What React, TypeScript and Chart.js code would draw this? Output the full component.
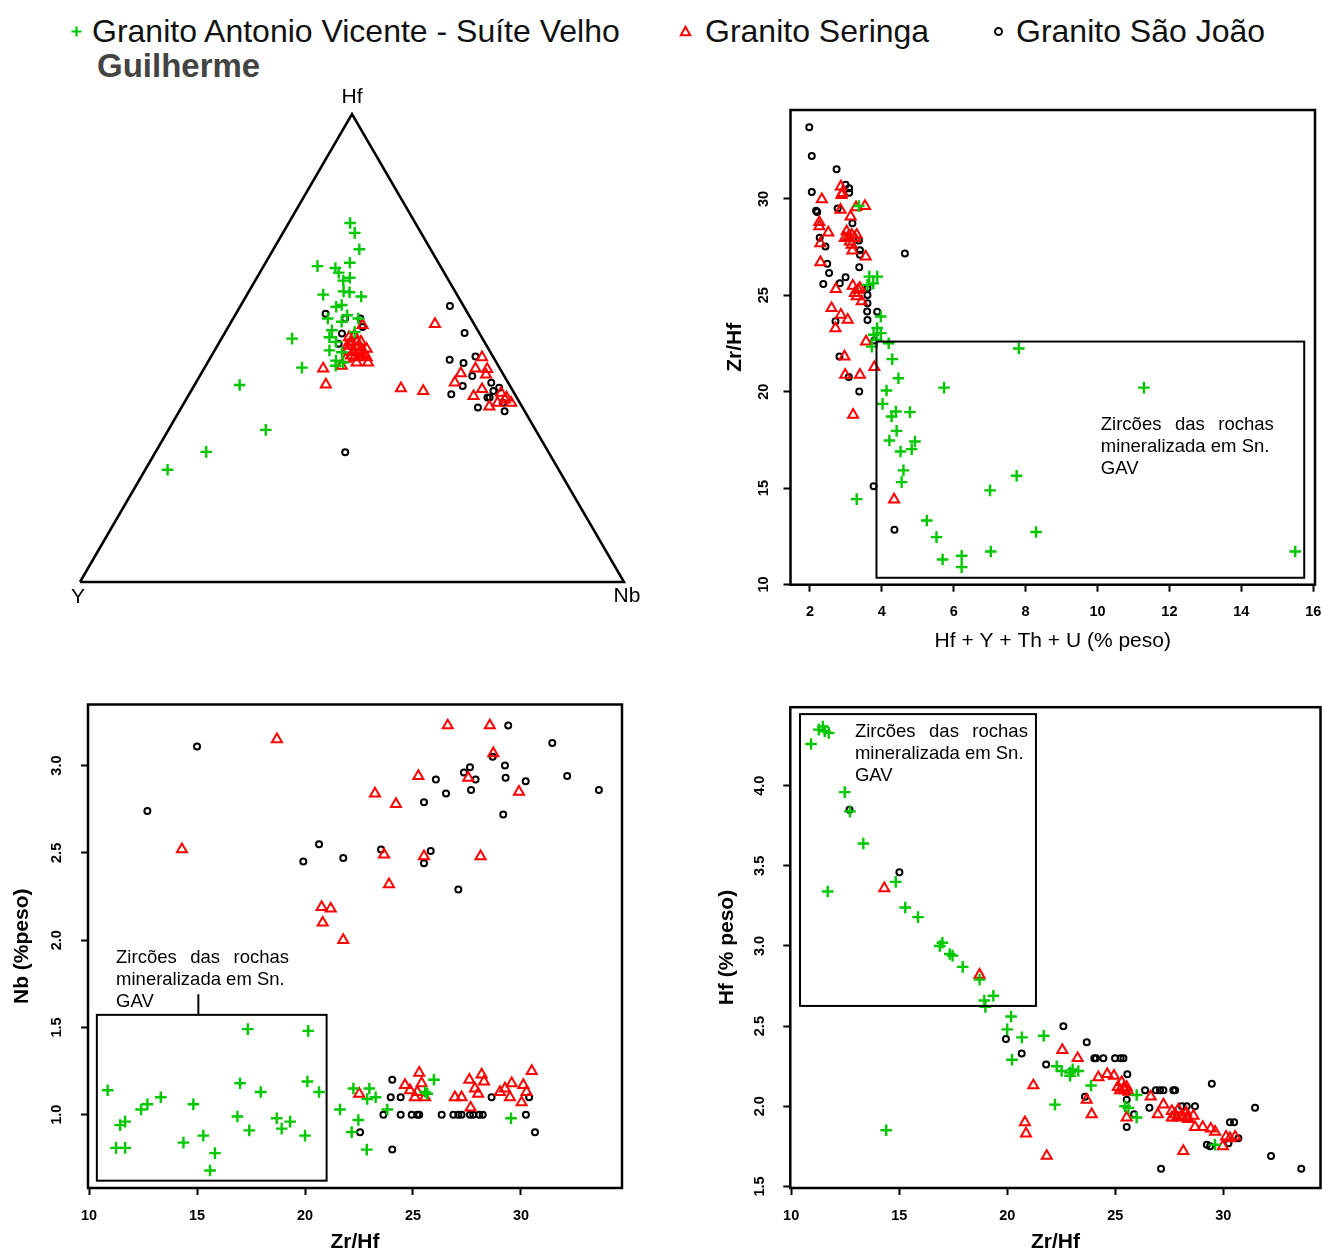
import { useEffect, useRef } from "react";
import { Chart, registerables } from "chart.js";

Chart.register(...registerables);

const FONT = "'Liberation Sans', Arial, Helvetica, sans-serif";
Chart.defaults.font.family = FONT;
Chart.defaults.color = "#000";

type Pt = [number, number];
type Tri = [number, number, number]; // [Hf, Y, Nb] in %

const GREEN = "#00c800";
const RED = "#ff0000";
const BLACK = "#000000";

// Series names
const NAME_GAV = "Granito Antonio Vicente - Suíte Velho";
const NAME_GAV_2 = "Guilherme";
const NAME_SER = "Granito Seringa";
const NAME_SJ = "Granito São João";

// Ternary vertex labels and the note printed inside the highlighted regions
const VERTEX_LABELS = ["Hf", "Y", "Nb"];
const NOTE_LINES = ["Zircões das rochas", "mineralizada em Sn.", "GAV"];

// ---------- Ternary Hf - Y - Nb (%): [Hf, Y, Nb] ----------
const TERN_GAV: Tri[] = [
  [76.7, 12.0, 11.3], [74.6, 12.2, 13.2], [71.1, 13.1, 15.8], [67.5, 22.6, 9.9], [67.1, 19.5, 13.4],
  [68.2, 16.3, 15.5], [66.1, 19.4, 14.5], [65.0, 17.9, 17.1], [64.4, 19.4, 16.2], [61.4, 24.6, 14.0],
  [62.1, 20.5, 17.4], [61.9, 19.5, 18.6], [61.0, 17.8, 21.2], [58.8, 23.5, 17.7], [59.2, 22.3, 18.5],
  [56.3, 26.3, 17.4], [55.6, 24.1, 20.3], [53.8, 26.8, 19.4], [52.3, 28.0, 19.7], [53.4, 22.8, 23.8],
  [52.0, 35.0, 13.0], [51.3, 27.3, 21.4], [49.5, 29.4, 21.1], [49.1, 27.3, 23.6], [47.3, 29.3, 23.4],
  [46.9, 28.2, 24.9], [46.2, 29.9, 23.9], [45.8, 36.3, 17.9], [42.1, 49.6, 8.3], [32.5, 49.6, 17.9],
  [27.8, 62.9, 9.3], [24.0, 71.9, 4.1], [57.0, 22.4, 20.6], [56.3, 20.7, 23.0],
];
const TERN_SER: Tri[] = [
  [54.9, 20.6, 24.5], [52.7, 23.2, 24.1], [51.3, 24.5, 24.2], [51.3, 22.7, 26.0], [49.8, 22.4, 27.8],
  [49.1, 25.2, 25.7], [48.4, 23.9, 27.7], [47.7, 27.3, 25.0], [46.9, 23.6, 29.5], [46.9, 25.7, 27.4],
  [50.5, 25.0, 24.5], [50.2, 23.7, 26.1], [48.7, 23.4, 27.9], [49.5, 26.1, 24.4], [48.0, 25.5, 26.5],
  [46.2, 28.8, 25.0], [52.3, 24.4, 23.3], [51.3, 23.4, 25.3], [49.5, 23.3, 27.2], [48.4, 26.0, 25.6],
  [49.1, 24.2, 26.7], [48.0, 23.3, 28.7], [50.5, 25.6, 23.9],
  [45.6, 32.5, 21.9], [42.2, 33.7, 24.1], [55.1, 7.2, 37.7], [41.4, 20.3, 38.3], [40.8, 16.5, 42.7],
  [48.0, 2.1, 49.9], [45.6, 4.5, 49.9], [45.5, 2.4, 52.1], [44.6, 7.7, 47.7], [44.3, 3.2, 52.5],
  [42.6, 9.8, 47.6], [41.2, 5.5, 53.3], [39.7, 7.8, 52.5], [40.4, 2.4, 57.2], [39.4, 1.9, 58.7],
  [38.3, 1.6, 60.1], [37.5, 6.0, 56.5], [38.3, 4.1, 57.6], [39.0, 2.4, 58.6],
];
const TERN_SJ: Tri[] = [
  [57.3, 26.2, 16.5], [56.3, 23.1, 20.6], [56.3, 20.3, 23.4], [53.1, 25.3, 21.6], [50.9, 27.0, 22.1],
  [54.5, 20.8, 24.7], [27.7, 37.4, 34.9], [59.0, 2.5, 38.5], [53.2, 2.7, 44.1], [47.5, 8.3, 44.2],
  [46.8, 6.1, 47.1], [48.2, 3.2, 48.6], [44.0, 5.9, 50.1], [41.9, 8.7, 49.4], [40.1, 11.7, 48.2],
  [42.6, 3.1, 54.3], [41.5, 2.2, 56.3], [40.8, 3.6, 55.6], [39.4, 5.4, 55.2], [37.3, 8.2, 54.5],
  [36.5, 3.7, 59.8], [38.3, 3.1, 58.6], [39.4, 5.0, 55.6],
];

// ---------- Zr/Hf vs Hf + Y + Th + U (% peso): [sum, Zr/Hf] ----------
const SUM_GAV: Pt[] = [
  [3.36, 29.63], [3.65, 25.97], [3.87, 25.97], [3.76, 25.62], [3.6, 25.54], [3.97, 23.9], [3.87, 23.3],
  [3.97, 23.04], [3.77, 22.95], [3.86, 22.69], [3.72, 22.34], [4.19, 22.51], [4.29, 21.69], [4.46, 20.7],
  [4.13, 20.06], [4.02, 19.37], [4.39, 18.97], [4.27, 18.71], [4.78, 18.94], [4.41, 17.97], [4.21, 17.47],
  [4.52, 16.9], [4.92, 17.42], [4.83, 17.02], [4.6, 15.92], [4.55, 15.31], [3.3, 14.43], [7.75, 15.64],
  [7.01, 14.88], [5.25, 13.32], [5.52, 12.46], [8.29, 12.72], [5.69, 11.3], [6.22, 11.49], [6.22, 10.9],
  [7.03, 11.71], [7.81, 22.24], [5.73, 20.21], [11.29, 20.21], [15.5, 11.71],
];
const SUM_SER: Pt[] = [
  [2.86, 30.64], [2.9, 30.3], [2.88, 30.2], [2.33, 29.98], [2.85, 29.43], [3.53, 29.63], [3.28, 29.56],
  [3.13, 29.08], [2.26, 28.79], [2.26, 28.57], [2.51, 28.25], [3.02, 28.31], [3.07, 28.05], [3.16, 28.14],
  [2.97, 27.96], [3.11, 27.79], [3.25, 27.96], [3.16, 27.62], [3.3, 28.14], [3.18, 27.32], [2.29, 27.7],
  [3.55, 27.01], [2.29, 26.71], [2.72, 25.32], [3.19, 25.49], [3.25, 25.11], [3.34, 25.28], [3.3, 24.94],
  [3.44, 24.68], [3.39, 25.37], [2.6, 24.33], [2.86, 23.99], [3.05, 23.73], [2.71, 23.29], [3.56, 22.6],
  [2.96, 21.82], [2.98, 20.87], [3.39, 20.87], [3.79, 21.27], [3.2, 18.8], [4.34, 14.4],
];
const SUM_SJ: Pt[] = [
  [1.98, 33.72], [2.05, 32.23], [2.74, 31.54], [2.05, 30.36], [2.99, 30.73], [3.09, 30.55], [3.09, 30.32],
  [2.17, 29.39], [2.2, 29.32], [2.77, 29.5], [3.18, 28.74], [2.27, 27.98], [2.43, 27.53], [3.36, 27.84],
  [3.39, 27.33], [3.39, 27.1], [2.48, 26.63], [2.53, 26.15], [3.37, 26.46], [4.64, 27.17], [2.37, 25.59],
  [2.99, 25.93], [2.83, 25.62], [3.6, 25.37], [3.6, 25.02], [3.6, 24.59], [3.59, 24.16], [3.87, 24.14],
  [3.6, 23.72], [2.71, 23.65], [2.82, 21.82], [3.08, 20.76], [3.37, 20.01], [3.79, 22.65], [3.77, 15.09],
  [4.35, 12.84],
];

// ---------- Nb (%peso) vs Zr/Hf: [Zr/Hf, Nb] ----------
const NB_GAV: Pt[] = [
  [10.86, 1.14], [11.44, 0.94], [11.67, 0.96], [11.25, 0.81], [11.67, 0.81], [12.41, 1.03], [12.7, 1.06],
  [13.32, 1.1], [14.83, 1.06], [14.37, 0.84], [15.29, 0.88], [15.83, 0.78], [15.6, 0.68], [16.99, 1.18],
  [16.87, 0.99], [17.42, 0.91], [17.95, 1.13], [17.35, 1.49], [20.15, 1.48], [20.11, 1.19], [20.65, 1.13],
  [18.69, 0.98], [18.92, 0.92], [19.31, 0.96], [20.0, 0.88], [21.62, 1.03], [22.24, 1.15], [22.98, 1.15],
  [22.88, 1.09], [23.27, 1.1], [23.81, 1.03], [22.47, 0.97], [22.16, 0.9], [22.86, 0.8], [25.97, 1.2],
  [25.56, 1.13], [25.66, 1.12], [29.54, 0.98],
];
const NB_SER: Pt[] = [
  [26.61, 3.23], [28.56, 3.23], [18.7, 3.15], [28.72, 3.07], [25.25, 2.94], [27.56, 2.93], [23.24, 2.84],
  [24.21, 2.78], [29.91, 2.85], [23.66, 2.49], [25.51, 2.48], [28.13, 2.48], [23.89, 2.32], [20.77, 2.19],
  [21.19, 2.18], [20.82, 2.1], [21.77, 2.0], [14.3, 2.52], [22.51, 1.12], [24.63, 1.17], [24.86, 1.14],
  [25.29, 1.24], [25.4, 1.18], [25.09, 1.1], [25.56, 1.1], [25.2, 1.13], [26.94, 1.1], [27.25, 1.1],
  [27.67, 1.04], [27.61, 1.2], [28.18, 1.23], [28.29, 1.19], [27.87, 1.15], [28.02, 1.12], [29.03, 1.13],
  [29.57, 1.18], [29.49, 1.1], [30.11, 1.17], [30.26, 1.13], [30.03, 1.07], [30.5, 1.25], [29.26, 1.15],
];
const NB_SJ: Pt[] = [
  [29.41, 3.23], [31.45, 3.13], [28.69, 3.05], [27.64, 2.99], [27.36, 2.96], [29.26, 3.0], [26.06, 2.92],
  [27.9, 2.92], [29.29, 2.93], [30.22, 2.91], [32.14, 2.94], [33.61, 2.86], [26.53, 2.84], [27.69, 2.86],
  [25.51, 2.79], [29.18, 2.72], [20.65, 2.55], [19.92, 2.45], [21.77, 2.47], [23.52, 2.52], [25.82, 2.51],
  [25.51, 2.44], [27.1, 2.29], [15.0, 3.11], [12.7, 2.74], [24.04, 1.2], [23.97, 1.1], [24.43, 1.1],
  [23.63, 1.0], [24.43, 1.0], [24.94, 1.0], [25.29, 1.0], [25.2, 1.0], [26.33, 1.0], [26.87, 1.0],
  [27.1, 1.0], [27.25, 1.0], [27.64, 1.0], [27.79, 1.0], [28.07, 1.0], [28.23, 1.0], [28.64, 1.1],
  [30.23, 1.0], [30.38, 1.1], [30.65, 0.9], [22.55, 0.9], [24.04, 0.8],
];

// ---------- Hf (% peso) vs Zr/Hf: [Zr/Hf, Hf] ----------
const HF_GAV: Pt[] = [
  [10.92, 4.26], [11.28, 4.35], [11.56, 4.34], [11.74, 4.33], [11.47, 4.37], [12.48, 3.96], [12.72, 3.84],
  [13.34, 3.64], [11.69, 3.34], [14.84, 3.4], [15.28, 3.24], [15.87, 3.18], [16.88, 3.0], [17.0, 3.02],
  [17.34, 2.95], [17.47, 2.94], [17.94, 2.87], [18.72, 2.79], [18.94, 2.66], [18.99, 2.62], [19.36, 2.69],
  [20.18, 2.56], [20.0, 2.48], [20.68, 2.43], [21.69, 2.44], [20.22, 2.29], [14.4, 1.85], [22.29, 2.25],
  [22.52, 2.22], [22.91, 2.21], [23.03, 2.23], [23.29, 2.22], [22.91, 2.19], [22.21, 2.01], [23.88, 2.13],
  [25.99, 2.07], [25.45, 2.0], [25.61, 1.99], [25.99, 1.93], [29.62, 1.76],
];
const HF_SER: Pt[] = [
  [14.31, 3.36], [18.72, 2.82], [22.55, 2.35], [23.26, 2.3], [21.21, 2.13], [20.82, 1.9], [20.87, 1.83],
  [21.83, 1.69], [24.22, 2.18], [24.63, 2.2], [24.94, 2.19], [25.3, 2.15], [25.12, 2.12], [25.38, 2.11],
  [25.53, 2.12], [25.45, 2.1], [25.22, 2.1], [25.61, 2.09], [23.68, 2.04], [23.91, 1.95], [25.53, 1.93],
  [26.64, 2.06], [27.23, 2.01], [26.97, 1.95], [27.62, 1.97], [27.77, 1.95], [27.92, 1.98], [28.08, 1.94],
  [28.28, 1.96], [27.85, 1.93], [27.62, 1.93], [28.31, 1.93], [28.62, 1.94], [28.38, 1.92], [28.69, 1.87],
  [29.05, 1.87], [29.42, 1.86], [29.62, 1.84], [29.98, 1.75], [30.13, 1.81], [30.31, 1.8], [30.55, 1.81],
  [28.15, 1.72],
];
const HF_SJ: Pt[] = [
  [12.7, 3.85], [15.01, 3.46], [22.6, 2.5], [19.94, 2.42], [20.67, 2.33], [21.8, 2.26], [23.68, 2.4],
  [24.03, 2.3], [24.11, 2.3], [24.45, 2.3], [24.99, 2.3], [25.25, 2.3], [25.38, 2.3], [23.6, 2.06],
  [25.56, 2.2], [25.53, 2.04], [25.87, 1.95], [25.53, 1.87], [26.38, 2.1], [26.88, 2.1], [27.07, 2.1],
  [27.23, 2.1], [27.69, 2.1], [27.77, 2.1], [26.58, 1.99], [28.08, 2.0], [28.31, 2.0], [28.69, 2.0],
  [27.85, 1.93], [29.47, 2.14], [30.31, 1.9], [30.5, 1.9], [31.47, 1.99], [29.24, 1.76], [29.39, 1.75],
  [30.7, 1.8], [30.24, 1.77], [32.21, 1.69], [27.12, 1.61], [33.61, 1.61],
];

// ---------- Tick values ----------
const X_TICKS_SUM = [2, 4, 6, 8, 10, 12, 14, 16];
const Y_TICKS_ZRHF = [10, 15, 20, 25, 30];
const X_TICKS_ZRHF = [10, 15, 20, 25, 30];
const Y_TICKS_NB = [1.0, 1.5, 2.0, 2.5, 3.0];
const Y_TICKS_HF = [1.5, 2.0, 2.5, 3.0, 3.5, 4.0];

// ---------- marker styles ----------
type Kind = "gav" | "ser" | "sj";
const NONE = "rgba(0,0,0,0)";

function markers(label: string, pts: Pt[], kind: Kind) {
  const base = { label, data: pts.map(([x, y]) => ({ x, y })), showLine: false, clip: false as const };
  if (kind === "gav")
    return { ...base, pointStyle: "cross", pointRadius: 5.8, pointBorderWidth: 2.4, borderColor: GREEN, backgroundColor: GREEN, pointBorderColor: GREEN, pointBackgroundColor: GREEN };
  if (kind === "ser")
    return { ...base, pointStyle: "triangle", pointRadius: 5.8, pointBorderWidth: 2, borderColor: RED, backgroundColor: NONE, pointBorderColor: RED, pointBackgroundColor: NONE };
  return { ...base, pointStyle: "circle", pointRadius: 3, pointBorderWidth: 2, borderColor: BLACK, backgroundColor: NONE, pointBorderColor: BLACK, pointBackgroundColor: NONE };
}

// ---------- ternary ----------
const SQ3_2 = Math.sqrt(3) / 2;
function ternXY([hf, y, nb]: Tri) {
  const s = hf + y + nb;
  return { x: (nb + hf / 2) / s, y: (hf / s) * SQ3_2 };
}
const VERTICES: Tri[] = [[100, 0, 0], [0, 100, 0], [0, 0, 100]];

function ternaryConfig(): any {
  const outline = [VERTICES[1], VERTICES[2], VERTICES[0], VERTICES[1]].map(ternXY);
  const tern = (label: string, pts: Tri[], kind: Kind) => {
    const d = markers(label, [], kind);
    return { ...d, data: pts.map(ternXY) };
  };
  const labelPlugin = {
    id: "ternLabels",
    afterDraw(chart: any) {
      const { ctx, scales } = chart;
      const offsets: Pt[] = [[0, -17], [-2, 15], [3, 14]];
      ctx.save();
      ctx.fillStyle = "#000";
      ctx.font = `21px ${FONT}`;
      ctx.textAlign = "center";
      ctx.textBaseline = "middle";
      VERTICES.forEach((v, i) => {
        const p = ternXY(v);
        ctx.fillText(VERTEX_LABELS[i], scales.x.getPixelForValue(p.x) + offsets[i][0], scales.y.getPixelForValue(p.y) + offsets[i][1]);
      });
      ctx.restore();
    },
  };
  return {
    type: "scatter",
    data: {
      datasets: [
        tern(NAME_GAV + " " + NAME_GAV_2, TERN_GAV, "gav"),
        tern(NAME_SER, TERN_SER, "ser"),
        tern(NAME_SJ, TERN_SJ, "sj"),
        { label: "Hf-Y-Nb", data: outline, showLine: true, borderColor: BLACK, borderWidth: 2.5, pointRadius: 0, clip: false },
      ],
    },
    options: {
      animation: false,
      responsive: false,
      events: [],
      layout: { padding: { left: 40, right: 46, top: 34, bottom: 38 }, autoPadding: false },
      plugins: { legend: { display: false }, tooltip: { enabled: false } },
      scales: {
        x: { type: "linear", min: 0, max: 1, display: false },
        y: { type: "linear", min: 0, max: SQ3_2, display: false },
      },
    },
    plugins: [labelPlugin],
  };
}

// ---------- scatter panels ----------
interface PanelSpec {
  series: { label: string; pts: Pt[]; kind: Kind }[];
  x: { min: number; max: number; ticks: number[]; title: string; bold: boolean; titlePad: number; height: number; labelPad: number };
  y: { min: number; max: number; ticks: number[]; fmt: (v: number) => string; title: string; width: number; labelOffset: number };
  padding: { left: number; right: number; top: number; bottom: number };
  inset: { x0: number; x1: number; y0: number; y1: number };
  note: { x: number; y: number };
  connector?: { x: number; y0: number; y1: number };
}

const TICK_FONT = 14.5;
const NOTE_FONT = 18.5;
const NOTE_LINE_H = 22;
const NOTE_WIDTH = 173;

function decor(spec: PanelSpec) {
  return {
    id: "panelDecor",
    afterDraw(chart: any) {
      const { ctx, chartArea: a, scales } = chart;
      const X = (v: number) => scales.x.getPixelForValue(v);
      const Y = (v: number) => scales.y.getPixelForValue(v);
      ctx.save();
      // y tick labels, written parallel to the axis
      ctx.fillStyle = "#000";
      ctx.font = `bold ${TICK_FONT}px ${FONT}`;
      ctx.textAlign = "center";
      ctx.textBaseline = "middle";
      for (const v of spec.y.ticks) {
        ctx.save();
        ctx.translate(a.left - spec.y.labelOffset, Y(v));
        ctx.rotate(-Math.PI / 2);
        ctx.fillText(spec.y.fmt(v), 0, 0);
        ctx.restore();
      }
      // highlighted region of the mineralised granite
      ctx.strokeStyle = "#000";
      ctx.lineWidth = 2;
      const { x0, x1, y0, y1 } = spec.inset;
      ctx.strokeRect(X(x0), Y(y1), X(x1) - X(x0), Y(y0) - Y(y1));
      if (spec.connector) {
        ctx.beginPath();
        ctx.moveTo(X(spec.connector.x), Y(spec.connector.y0));
        ctx.lineTo(X(spec.connector.x), Y(spec.connector.y1));
        ctx.stroke();
      }
      // note, first line justified
      ctx.font = `${NOTE_FONT}px ${FONT}`;
      ctx.textAlign = "left";
      const nx = X(spec.note.x);
      const ny = Y(spec.note.y);
      NOTE_LINES.forEach((line, i) => {
        const ly = ny + i * NOTE_LINE_H;
        if (i === 0) {
          const words = line.split(" ");
          const total = words.reduce((s, w) => s + ctx.measureText(w).width, 0);
          const gap = (NOTE_WIDTH - total) / (words.length - 1);
          let cx = nx;
          for (const w of words) {
            ctx.fillText(w, cx, ly);
            cx += ctx.measureText(w).width + gap;
          }
        } else {
          ctx.fillText(line, nx, ly);
        }
      });
      // plot frame
      ctx.lineWidth = 2.5;
      ctx.strokeRect(a.left, a.top, a.right - a.left, a.bottom - a.top);
      ctx.restore();
    },
  };
}

function panelConfig(spec: PanelSpec): any {
  return {
    type: "scatter",
    data: { datasets: spec.series.map((s) => markers(s.label, s.pts, s.kind)) },
    options: {
      animation: false,
      responsive: false,
      events: [],
      layout: { padding: spec.padding, autoPadding: false },
      plugins: { legend: { display: false }, tooltip: { enabled: false } },
      scales: {
        x: {
          type: "linear",
          position: "bottom",
          min: spec.x.min,
          max: spec.x.max,
          afterBuildTicks: (s: any) => {
            s.ticks = spec.x.ticks.map((v) => ({ value: v }));
          },
          afterFit: (s: any) => {
            s.height = spec.x.height;
            s.paddingLeft = 0;
            s.paddingRight = 0;
            s.paddingTop = 0;
            s.paddingBottom = 0;
          },
          ticks: {
            autoSkip: false,
            maxRotation: 0,
            minRotation: 0,
            padding: spec.x.labelPad,
            color: "#000",
            font: { size: TICK_FONT, weight: "bold" },
            callback: (v: number) => String(v),
          },
          grid: { drawOnChartArea: false, drawTicks: true, tickLength: 7, tickWidth: 2, tickColor: "#000", color: "#000" },
          border: { display: false },
          title: {
            display: true,
            text: spec.x.title,
            color: "#000",
            font: { size: 21, weight: spec.x.bold ? "bold" : "normal" },
            padding: { top: 0, bottom: spec.x.titlePad },
          },
        },
        y: {
          type: "linear",
          position: "left",
          min: spec.y.min,
          max: spec.y.max,
          afterBuildTicks: (s: any) => {
            s.ticks = spec.y.ticks.map((v) => ({ value: v }));
          },
          afterFit: (s: any) => {
            s.width = spec.y.width;
            s.paddingLeft = 0;
            s.paddingRight = 0;
            s.paddingTop = 0;
            s.paddingBottom = 0;
          },
          ticks: { display: false },
          grid: { drawOnChartArea: false, drawTicks: true, tickLength: 7, tickWidth: 2, tickColor: "#000", color: "#000" },
          border: { display: false },
          title: {
            display: true,
            text: spec.y.title,
            color: "#000",
            font: { size: 21, weight: "bold" },
            padding: { top: 0, bottom: 0 },
          },
        },
      },
    },
    plugins: [decor(spec)],
  };
}

const fmtInt = (v: number) => String(v);
const fmt1 = (v: number) => v.toFixed(1);

const SPEC_SUM: PanelSpec = {
  series: [
    { label: NAME_GAV, pts: SUM_GAV, kind: "gav" },
    { label: NAME_SER, pts: SUM_SER, kind: "ser" },
    { label: NAME_SJ, pts: SUM_SJ, kind: "sj" },
  ],
  x: { min: 1.458, max: 16.05, ticks: X_TICKS_SUM, title: "Hf + Y + Th + U (% peso)", bold: false, titlePad: 6, height: 75.3, labelPad: 11.3 },
  y: { min: 9.99, max: 34.61, ticks: Y_TICKS_ZRHF, fmt: fmtInt, title: "Zr/Hf", width: 68.1, labelOffset: 27 },
  padding: { left: 22.4, right: 7, top: 15, bottom: 0 },
  inset: { x0: 3.85, x1: 15.75, y0: 10.35, y1: 22.6 },
  note: { x: 10.09, y: 18.3 },
};

const SPEC_NB: PanelSpec = {
  series: [
    { label: NAME_GAV, pts: NB_GAV, kind: "gav" },
    { label: NAME_SER, pts: NB_SER, kind: "ser" },
    { label: NAME_SJ, pts: NB_SJ, kind: "sj" },
  ],
  x: { min: 9.95, max: 34.68, ticks: X_TICKS_ZRHF, title: "Zr/Hf", bold: true, titlePad: 0, height: 67, labelPad: 12.3 },
  y: { min: 0.58, max: 3.35, ticks: Y_TICKS_NB, fmt: fmt1, title: "Nb (%peso)", width: 78.6, labelOffset: 31 },
  padding: { left: 9.4, right: 38, top: 14.5, bottom: 0 },
  inset: { x0: 10.36, x1: 21.0, y0: 0.622, y1: 1.572 },
  note: { x: 11.25, y: 1.9 },
  connector: { x: 15.06, y0: 1.69, y1: 1.572 },
};

const SPEC_HF: PanelSpec = {
  series: [
    { label: NAME_GAV, pts: HF_GAV, kind: "gav" },
    { label: NAME_SER, pts: HF_SER, kind: "ser" },
    { label: NAME_SJ, pts: HF_SJ, kind: "sj" },
  ],
  x: { min: 9.96, max: 34.5, ticks: X_TICKS_ZRHF, title: "Zr/Hf", bold: true, titlePad: 0, height: 67, labelPad: 12.3 },
  y: { min: 1.49, max: 4.49, ticks: Y_TICKS_HF, fmt: fmt1, title: "Hf (% peso)", width: 75.9, labelOffset: 30 },
  padding: { left: 14.4, right: 1.5, top: 17.2, bottom: 0 },
  inset: { x0: 10.41, x1: 21.33, y0: 2.626, y1: 4.447 },
  note: { x: 12.95, y: 4.335 },
};

function ChartCanvas(props: { left: number; top: number; width: number; height: number; make: () => any }) {
  const ref = useRef<HTMLCanvasElement | null>(null);
  useEffect(() => {
    if (!ref.current) return;
    const chart = new Chart(ref.current, props.make());
    return () => chart.destroy();
  }, []);
  return (
    <canvas
      ref={ref}
      width={props.width}
      height={props.height}
      style={{ position: "absolute", left: props.left, top: props.top, width: props.width, height: props.height }}
    />
  );
}

function Legend() {
  const text: any = { position: "absolute", fontSize: 32, lineHeight: "37px", color: "#111", whiteSpace: "nowrap", fontFamily: FONT };
  return (
    <>
      <svg style={{ position: "absolute", left: 70, top: 25 }} width={13} height={13}>
        <path d="M6.5 1.5V11.5M1.5 6.5H11.5" stroke={GREEN} strokeWidth={2.2} fill="none" />
      </svg>
      <div style={{ ...text, left: 92, top: 13.4 }}>{NAME_GAV}</div>
      <div style={{ ...text, left: 97, top: 47, fontSize: 33, fontWeight: "bold", color: "#444" }}>{NAME_GAV_2}</div>
      <svg style={{ position: "absolute", left: 679, top: 25 }} width={13} height={13}>
        <path d="M6.5 1.8L11.2 10.2H1.8Z" stroke={RED} strokeWidth={2} fill="none" />
      </svg>
      <div style={{ ...text, left: 705, top: 13.4 }}>{NAME_SER}</div>
      <svg style={{ position: "absolute", left: 992, top: 25 }} width={13} height={13}>
        <circle cx={6.5} cy={6.5} r={3.5} stroke={BLACK} strokeWidth={2} fill="none" />
      </svg>
      <div style={{ ...text, left: 1016, top: 13.4 }}>{NAME_SJ}</div>
    </>
  );
}

export default function App() {
  return (
    <div style={{ position: "absolute", left: 0, top: 0, width: 1322, height: 1255, background: "#fff", overflow: "hidden" }}>
      <Legend />
      <ChartCanvas left={40} top={80} width={630} height={540} make={ternaryConfig} />
      <ChartCanvas left={700} top={95} width={622} height={565} make={() => panelConfig(SPEC_SUM)} />
      <ChartCanvas left={0} top={690} width={660} height={565} make={() => panelConfig(SPEC_NB)} />
      <ChartCanvas left={700} top={690} width={622} height={565} make={() => panelConfig(SPEC_HF)} />
    </div>
  );
}
